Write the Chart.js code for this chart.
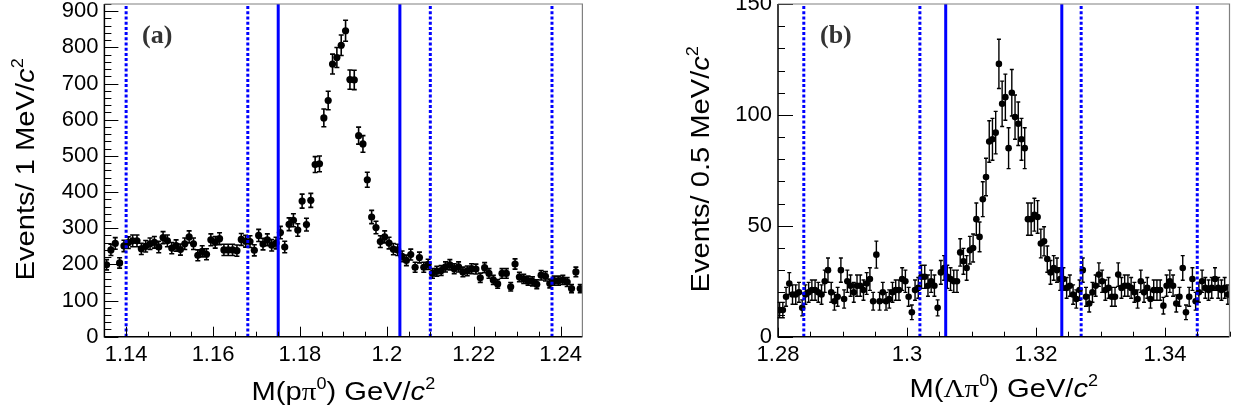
<!DOCTYPE html>
<html>
<head>
<meta charset="utf-8">
<script src="https://cdn.jsdelivr.net/npm/chart.js@4.4.1/dist/chart.umd.min.js"></script>
<style>
  html, body { margin: 0; padding: 0; background: #fff; }
  #wrap { position: relative; width: 1240px; height: 416px; }
  .panel { position: absolute; top: 0; width: 620px; height: 416px; }
</style>
</head>
<body>
<div id="wrap">
  <div class="panel" style="left:0"><canvas id="chart-a"></canvas></div>
  <div class="panel" style="left:620px"><canvas id="chart-b"></canvas></div>
</div>
<script>
// (a) M(p pi0), 1 MeV bins starting at 1.135
const binLoA = 1.135, binWidthA = 0.001;
const countsA = [
  199, 240, 258, 204, 251, 260, 265, 265, 243, 250,
  257, 261, 248, 274, 265, 245, 252, 241, 257, 276,
  257, 225, 236, 228, 268, 261, 271, 240, 240, 240,
  238, 269, 264, 263, 239, 280, 256, 268, 253, 259,
  288, 248, 311, 322, 295, 375, 310, 377, 476, 478,
  605, 653, 754, 772, 806, 846, 711, 710, 556, 533,
  434, 331, 302, 263, 276, 259, 242, 240, 222, 211,
  227, 192, 219, 192, 200, 175, 181, 183, 193, 199,
  188, 193, 179, 182, 188, 187, 163, 191, 175, 157,
  146, 175, 175, 138, 201, 165, 160, 155, 153, 145,
  170, 167, 147, 155, 155, 157, 151, 133, 179, 133
];
const signalA = [1.175, 1.203];
const sidebandA = [1.140, 1.168, 1.210, 1.238];
const xTicksA = [1.14, 1.16, 1.18, 1.2, 1.22, 1.24];
const yTicksA = [0, 100, 200, 300, 400, 500, 600, 700, 800, 900];

// (b) M(Lambda pi0), 0.5 MeV bins starting at 1.28
const binLoB = 1.28, binWidthB = 0.0005;
const countsB = [
  12, 12, 18, 24, 19, 19, 20, 13, 19, 20,
  21, 21, 20, 19, 25, 30, 20, 16, 18, 30,
  17, 25, 23, 20, 23, 23, 21, 24, 26, 16,
  37, 16, 20, 16, 17, 20, 21, 21, 26, 25,
  18, 11, 21, 22, 27, 27, 23, 25, 23, 13,
  29, 31, 27, 26, 25, 25, 38, 34, 31, 39,
  40, 53, 45, 62, 72, 88, 89, 92, 123, 105,
  108, 85, 110, 99, 96, 89, 85, 53, 53, 55,
  54, 42, 43, 35, 29, 31, 30, 26, 26, 22,
  23, 19, 17, 21, 30, 18, 15, 20, 23, 28,
  25, 21, 22, 18, 18, 28, 22, 23, 23, 22,
  20, 17, 25, 20, 22, 17, 21, 21, 21, 14,
  23, 25, 23, 15, 18, 31, 11, 18, 26, 16,
  20, 25, 22, 21, 22, 26, 22, 21, 22, 19
];
const signalB = [1.306, 1.324];
const sidebandB = [1.284, 1.302, 1.327, 1.345];
const xTicksB = [1.28, 1.3, 1.32, 1.34];
const yTicksB = [0, 50, 100, 150];

const FONT = '"Liberation Sans", Arial, Helvetica, sans-serif';

// vertical error bars (sqrt N, as in the figure) drawn under the markers
const errorBars = {
  id: 'errorBars',
  beforeDatasetDraw(chart, args, o) {
    const ds = chart.data.datasets[args.index];
    if (!ds.errors) return;
    const {x, y} = chart.scales;
    const ctx = chart.ctx;
    ctx.save();
    ctx.strokeStyle = '#000';
    ctx.lineWidth = o.lineWidth;
    ctx.beginPath();
    ds.data.forEach((p, i) => {
      const px = x.getPixelForValue(p.x);
      const y1 = y.getPixelForValue(p.y - ds.errors[i]);
      const y2 = y.getPixelForValue(p.y + ds.errors[i]);
      ctx.moveTo(px, y1); ctx.lineTo(px, y2);
      ctx.moveTo(px - o.cap, y1); ctx.lineTo(px + o.cap, y1);
      ctx.moveTo(px - o.cap, y2); ctx.lineTo(px + o.cap, y2);
    });
    ctx.stroke();
    ctx.restore();
  }
};

// ROOT-like frame with ticks pointing inward
const frame = {
  id: 'frame',
  afterDraw(chart, args, o) {
    const {ctx, chartArea: a, scales: {x, y}} = chart;
    ctx.save();
    ctx.strokeStyle = '#000';
    ctx.lineWidth = 1;
    ctx.beginPath();
    let n = Math.round((y.max - y.min) / o.yMinor);
    for (let i = 0; i <= n; i++) {
      const v = y.min + i * o.yMinor;
      const major = Math.abs(v / o.yMajor - Math.round(v / o.yMajor)) < 1e-6;
      const py = Math.round(y.getPixelForValue(v)) + 0.5;
      ctx.moveTo(a.left, py);
      ctx.lineTo(a.left + (major ? o.yMajorLen : o.yMinorLen), py);
    }
    const i0 = Math.ceil(x.min / o.xMinor - 1e-6), i1 = Math.floor(x.max / o.xMinor + 1e-6);
    for (let i = i0; i <= i1; i++) {
      const v = i * o.xMinor;
      const major = Math.abs(v / o.xMajor - Math.round(v / o.xMajor)) < 1e-6;
      const px = Math.round(x.getPixelForValue(v)) + 0.5;
      ctx.moveTo(px, a.bottom);
      ctx.lineTo(px, a.bottom - (major ? o.xMajorLen : o.xMinorLen));
    }
    ctx.stroke();
    ctx.lineWidth = 1.5;
    ctx.beginPath();
    ctx.moveTo(a.left, a.top); ctx.lineTo(a.left, a.bottom); ctx.lineTo(a.right, a.bottom);
    ctx.stroke();
    ctx.strokeStyle = '#808080';
    ctx.lineWidth = 1.2;
    ctx.beginPath();
    ctx.moveTo(a.left, a.top); ctx.lineTo(a.right, a.top); ctx.lineTo(a.right, a.bottom);
    ctx.stroke();
    ctx.restore();
  }
};

function richText(ctx, parts, cx, cy, rot, size, stretch) {
  const fontOf = p => (p.italic ? 'italic ' : '') + (p.sup ? size * 0.62 : size) + 'px ' +
    (p.serif ? '"Liberation Serif", serif' : FONT);
  let w = 0;
  parts.forEach(p => { ctx.font = fontOf(p); w += ctx.measureText(p.t).width; });
  ctx.save();
  ctx.translate(cx, cy);
  ctx.rotate(rot);
  ctx.scale(stretch, 1);
  ctx.textAlign = 'left';
  ctx.textBaseline = 'alphabetic';
  let xx = -w / 2;
  parts.forEach(p => {
    ctx.font = fontOf(p);
    ctx.fillText(p.t, xx, p.sup ? -size * 0.42 : 0);
    xx += ctx.measureText(p.t).width;
  });
  ctx.restore();
}

const titles = {
  id: 'titles',
  afterDraw(chart, args, o) {
    const {ctx, chartArea: a} = chart;
    ctx.save();
    ctx.fillStyle = '#000';
    richText(ctx, o.xTitle, (a.left + a.right) / 2, o.xBase, 0, o.size, o.stretch);
    richText(ctx, o.yTitle, o.yBase, (a.top + a.bottom) / 2 - 1, -Math.PI / 2, o.size, o.stretch);
    ctx.font = 'bold 26px "Liberation Serif", serif';
    ctx.fillStyle = '#333';
    ctx.textAlign = 'left';
    ctx.textBaseline = 'middle';
    ctx.fillText(o.label, o.labelX, o.labelY);
    ctx.restore();
  }
};

function cutLine(v, yMax, dotted) {
  return {
    data: [{x: v, y: 0}, {x: v, y: yMax}],
    showLine: true,
    borderColor: '#0000ff',
    borderWidth: 3,
    borderDash: dotted ? [3, 2.2] : [],
    borderCapStyle: 'butt',
    pointRadius: 0,
    order: 0
  };
}

function makeChart(id, c) {
  const points = c.counts.map((n, i) => ({x: c.binLo + (i + 0.5) * c.binWidth, y: n}));
  return new Chart(document.getElementById(id), {
    type: 'scatter',
    data: {
      datasets: [
        ...c.signal.map(v => cutLine(v, c.yMax, false)),
        ...c.sideband.map(v => cutLine(v, c.yMax, true)),
        {
          data: points,
          errors: c.counts.map(n => Math.sqrt(n)),
          pointRadius: c.radius,
          pointBackgroundColor: '#000',
          pointBorderWidth: 0,
          order: 1
        }
      ]
    },
    options: {
      responsive: true,
      maintainAspectRatio: false,
      animation: false,
      events: [],
      layout: {padding: {left: 0, top: c.area.top, right: 620 - c.area.right, bottom: 0}},
      scales: {
        x: {
          type: 'linear', min: c.xMin, max: c.xMax,
          afterBuildTicks: s => { s.ticks = c.xTicks.map(v => ({value: v})); },
          afterFit: s => { s.height = 416 - c.area.bottom; s.paddingLeft = 0; s.paddingRight = 0; },
          grid: {display: false, drawTicks: false},
          border: {display: false},
          ticks: {font: {family: FONT, size: 22}, color: '#000', padding: 5,
                  maxRotation: 0, autoSkip: false, callback: v => String(v)}
        },
        y: {
          type: 'linear', min: 0, max: c.yMax,
          afterBuildTicks: s => { s.ticks = c.yTicks.map(v => ({value: v})); },
          afterFit: s => { s.width = c.area.left; s.paddingTop = 0; s.paddingBottom = 0; },
          grid: {display: false, drawTicks: false},
          border: {display: false},
          ticks: {font: {family: FONT, size: 22}, color: '#000', padding: 6,
                  autoSkip: false, callback: v => String(v)}
        }
      },
      plugins: {
        legend: {display: false},
        tooltip: {enabled: false},
        errorBars: {lineWidth: c.errWidth, cap: c.cap},
        frame: c.frame,
        titles: c.titles
      }
    },
    plugins: [errorBars, frame, titles]
  });
}

makeChart('chart-a', {
  counts: countsA, binLo: binLoA, binWidth: binWidthA,
  signal: signalA, sideband: sidebandA, xTicks: xTicksA, yTicks: yTicksA,
  xMin: 1.135, xMax: 1.245, yMax: 920,
  area: {left: 104.4, right: 582.4, top: 3.3, bottom: 336.7},
  radius: 3.6, errWidth: 1.6, cap: 2.5,
  frame: {yMinor: 20, yMajor: 100, yMajorLen: 14, yMinorLen: 7,
          xMinor: 0.005, xMajor: 0.02, xMajorLen: 10, xMinorLen: 5},
  titles: {
    size: 26, stretch: 1.12, xBase: 400, yBase: 33.5,
    xTitle: [{t: 'M(p'}, {t: 'π', serif: true}, {t: '0', sup: true}, {t: ') GeV/'}, {t: 'c', italic: true}, {t: '2', sup: true}],
    yTitle: [{t: 'Events/ 1 MeV/'}, {t: 'c', italic: true}, {t: '2', sup: true}],
    label: '(a)', labelX: 142, labelY: 36
  }
});

makeChart('chart-b', {
  counts: countsB, binLo: binLoB, binWidth: binWidthB,
  signal: signalB, sideband: sidebandB, xTicks: xTicksB, yTicks: yTicksB,
  xMin: 1.28, xMax: 1.35, yMax: 150,
  area: {left: 158, right: 609.5, top: 3.5, bottom: 336.7},
  radius: 3.3, errWidth: 1.4, cap: 2,
  frame: {yMinor: 10, yMajor: 50, yMajorLen: 15, yMinorLen: 7,
          xMinor: 0.005, xMajor: 0.02, xMajorLen: 9, xMinorLen: 5},
  titles: {
    size: 26, stretch: 1.12, xBase: 397, yBase: 89,
    xTitle: [{t: 'M('}, {t: 'Λπ', serif: true}, {t: '0', sup: true}, {t: ') GeV/'}, {t: 'c', italic: true}, {t: '2', sup: true}],
    yTitle: [{t: 'Events/ 0.5 MeV/'}, {t: 'c', italic: true}, {t: '2', sup: true}],
    label: '(b)', labelX: 200, labelY: 36
  }
});
</script>
</body>
</html>
